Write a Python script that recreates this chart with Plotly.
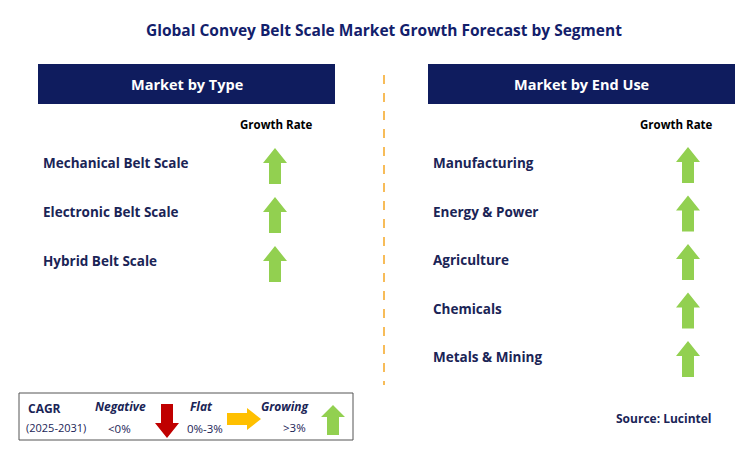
import plotly.graph_objects as go

title = "Global Convey Belt Scale Market Growth Forecast by Segment"
left_header = "Market by Type"
right_header = "Market by End Use"
type_labels = ["Mechanical Belt Scale", "Electronic Belt Scale", "Hybrid Belt Scale"]
type_trend = ["up", "up", "up"]
enduse_labels = ["Manufacturing", "Energy & Power", "Agriculture", "Chemicals", "Metals & Mining"]
enduse_trend = ["up", "up", "up", "up", "up"]

NAVY = "#0F1C5E"
TXT = "#1A2456"
GREEN = "#92D050"
RED = "#C00000"
YEL = "#FFC000"
F = "Open Sans"
OFF = 8  # default page body margin

fig = go.Figure()
shapes, ann = [], []

def up_arrow(cx, top, h=36, hw=12, sw=6, hh=15, col=GREEN):
    b = top + h
    p = (f"M{cx},{top} L{cx+hw},{top+hh} L{cx+sw},{top+hh} L{cx+sw},{b} "
         f"L{cx-sw},{b} L{cx-sw},{top+hh} L{cx-hw},{top+hh} Z")
    shapes.append(dict(type="path", path=p, fillcolor=col, line=dict(width=0), layer="above"))

def down_arrow(cx, top, h=34, hw=12, sw=6, hh=15, col=RED):
    b = top + h
    p = (f"M{cx},{b} L{cx+hw},{b-hh} L{cx+sw},{b-hh} L{cx+sw},{top} "
         f"L{cx-sw},{top} L{cx-sw},{b-hh} L{cx-hw},{b-hh} Z")
    shapes.append(dict(type="path", path=p, fillcolor=col, line=dict(width=0), layer="above"))

def right_arrow(left, cy, w=34, hw=11, sw=6, hl=14, col=YEL):
    r = left + w
    p = (f"M{r},{cy} L{r-hl},{cy-hw} L{r-hl},{cy-sw} L{left},{cy-sw} "
         f"L{left},{cy+sw} L{r-hl},{cy+sw} L{r-hl},{cy+hw} Z")
    shapes.append(dict(type="path", path=p, fillcolor=col, line=dict(width=0), layer="above"))

def text(x, y, s, size=12, bold=True, color=TXT, anchor="left", italic=False):
    if bold: s = f"<b>{s}</b>"
    if italic: s = f"<i>{s}</i>"
    ann.append(dict(x=x, y=y, text=s, showarrow=False, xanchor=anchor, yanchor="middle",
                    font=dict(family=F, size=size, color=color)))

text(384, 30, title, size=15.5, color="#12206B", anchor="center")

for x0, x1, lab in [(38, 335, left_header), (428, 735, right_header)]:
    shapes.append(dict(type="rect", x0=x0, x1=x1, y0=64, y1=104, fillcolor=NAVY, line=dict(width=0)))
    text((x0 + x1) / 2, 84, lab, size=14.5, color="white", anchor="center")

text(276, 124, "Growth Rate", size=11.5, color="black", anchor="center")
text(676, 124, "Growth Rate", size=11.5, color="black", anchor="center")

for i, lab in enumerate(type_labels):
    y = 163 + i * 49
    text(41, y, lab, size=13.5)
    up_arrow(275, y - 15)
for i, lab in enumerate(enduse_labels):
    y = 163 + i * 48.5
    text(431, y, lab, size=13.5)
    up_arrow(688, y - 16)

shapes.append(dict(type="line", x0=384, x1=384, y0=75, y1=385, line=dict(color="#F5A623", width=1.5, dash="dash")))

shapes.append(dict(type="rect", x0=19, x1=353, y0=393, y1=440, fillcolor="white", line=dict(color="#555", width=1)))
text(26, 408, "CAGR", size=12)
text(24, 427, "(2025-2031)", size=11, bold=False)
text(120, 406, "Negative", size=12, italic=True, anchor="center")
text(119, 428, "&lt;0%", size=11.5, bold=False, anchor="center")
down_arrow(167, 404)
text(201, 406, "Flat", size=12, italic=True, anchor="center")
text(205, 428, "0%-3%", size=11.5, bold=False, anchor="center")
right_arrow(227, 419)
text(285, 406, "Growing", size=12, italic=True, anchor="center")
text(294, 427, "&gt;3%", size=11.5, bold=False, anchor="center")
up_arrow(333, 405, h=30, hw=12, sw=6, hh=12)

text(664, 418, "Source: Lucintel", size=12, anchor="center")

fig.update_layout(width=748, height=456, margin=dict(l=0, r=0, t=0, b=0),
                  paper_bgcolor="white", plot_bgcolor="white", shapes=shapes, annotations=ann,
                  showlegend=False,
                  xaxis=dict(range=[OFF, 748 + OFF], visible=False, fixedrange=True),
                  yaxis=dict(range=[456 + OFF, OFF], visible=False, fixedrange=True))
fig.write_html("out.html", config={"displayModeBar": False})
